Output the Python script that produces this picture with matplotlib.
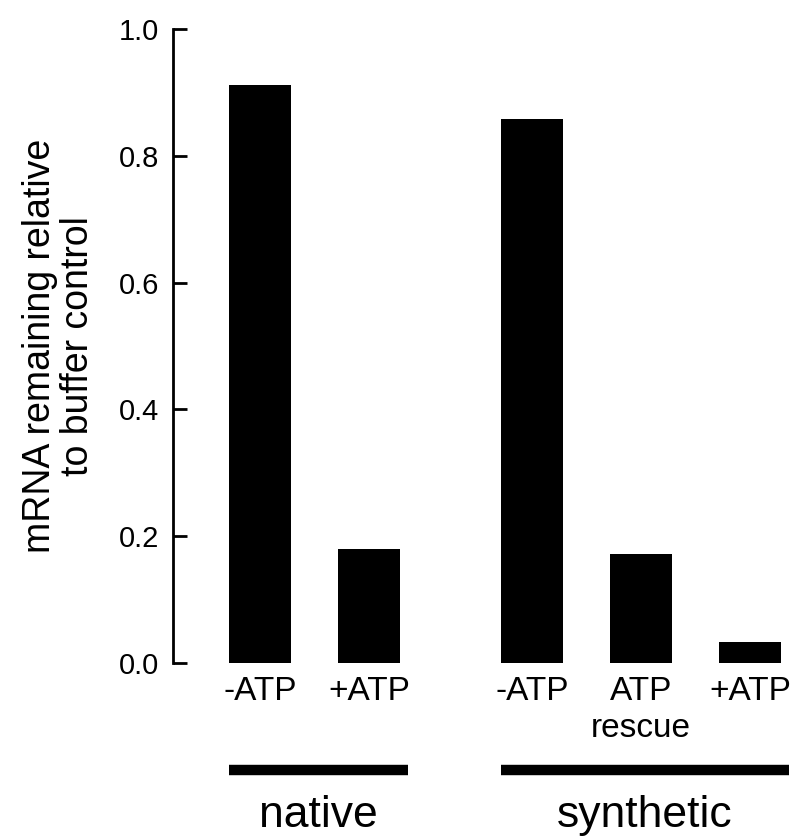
import matplotlib
matplotlib.use("Agg")
import matplotlib.pyplot as plt
import matplotlib.transforms as mtransforms

# dados
rotulos = ["-ATP", "+ATP", "-ATP", "ATP\nrescue", "+ATP"]
posicoes = [0, 1, 2.5, 3.5, 4.5]
valores = [0.912, 0.180, 0.858, 0.172, 0.033]

grupos = ["native", "synthetic"]
indices_grupos = [[0, 1], [2, 3, 4]]

plt.rcParams['font.family'] = ['Liberation Sans', 'DejaVu Sans']

largura = 0.57

fig = plt.figure(figsize=(7.95, 8.4), dpi=100)
ax = fig.add_axes([0.2176, 0.2107, 0.7736, 0.7548])

ax.bar(posicoes, valores, width=largura, color='black', edgecolor='none')

ax.set_xlim(-0.80, 4.85)
ax.set_ylim(0, 1.0)
ax.set_yticks([0.0, 0.2, 0.4, 0.6, 0.8, 1.0])
ax.set_yticklabels(["0.0", "0.2", "0.4", "0.6", "0.8", "1.0"])
ax.set_xticks(posicoes)
ax.set_xticklabels(rotulos, linespacing=1.25)

for lado in ['top', 'right', 'bottom']:
    ax.spines[lado].set_visible(False)
ax.spines['left'].set_linewidth(2)

ax.tick_params(axis='y', direction='in', length=10, width=2, pad=10, labelsize=21)
ax.tick_params(axis='x', length=0, pad=9, labelsize=24)

ax.set_ylabel("mRNA remaining relative\nto buffer control", fontsize=27, linespacing=1.08)
ax.yaxis.set_label_coords(-0.125, 0.5)

# barras dos grupos embaixo
trans = mtransforms.blended_transform_factory(ax.transData, ax.transAxes)
for nome, idx in zip(grupos, indices_grupos):
    x0 = posicoes[idx[0]] - largura / 2
    x1 = posicoes[idx[-1]] + largura / 2 + 0.07
    ax.plot([x0, x1], [-0.168, -0.168], color='black', linewidth=7.5,
            solid_capstyle='butt', transform=trans, clip_on=False)
    ax.text((x0 + x1) / 2, -0.259, nome, transform=trans, ha='center',
            va='baseline', fontsize=32)

fig.savefig("out.png", dpi=100)
